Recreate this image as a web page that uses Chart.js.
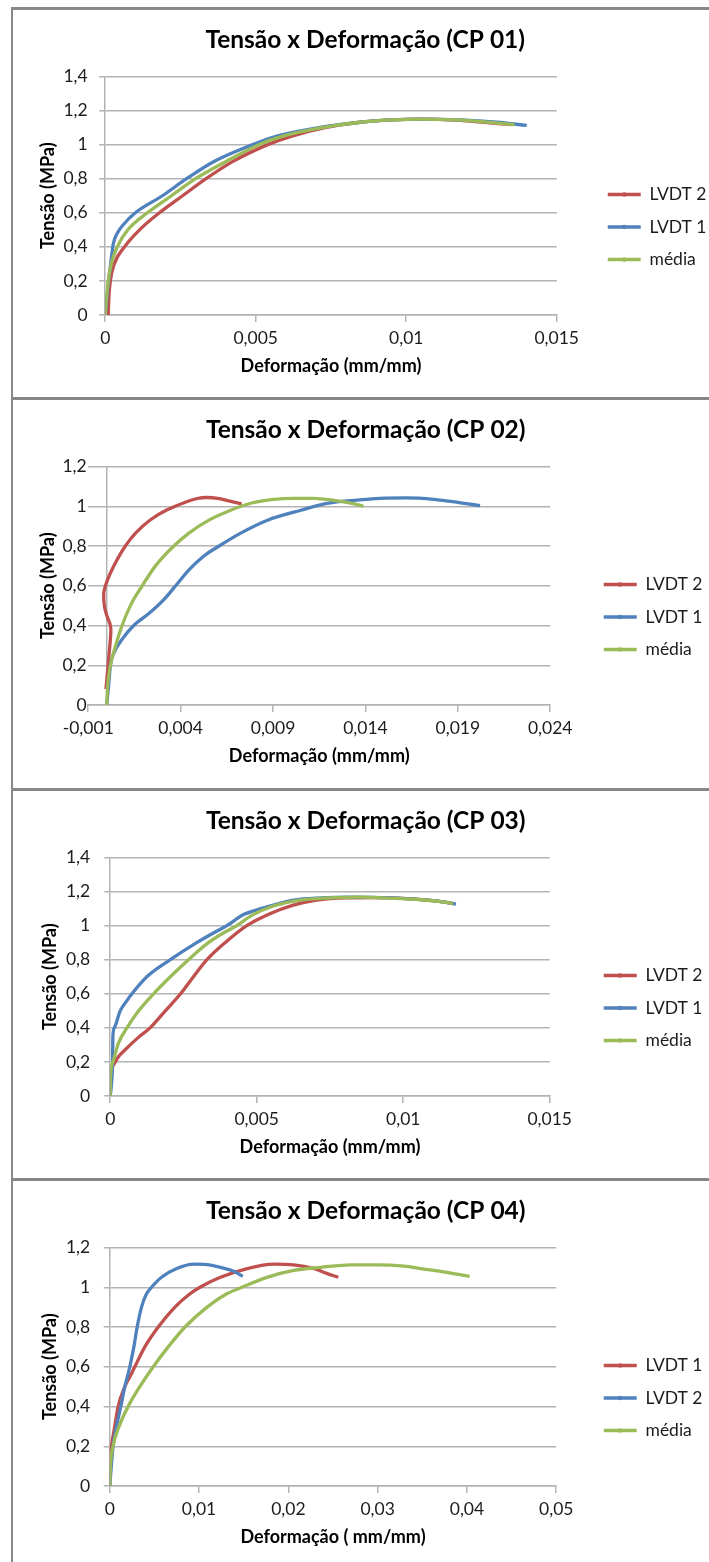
<!DOCTYPE html>
<html><head><meta charset="utf-8">
<script src="https://cdn.jsdelivr.net/npm/chart.js@4.4.1/dist/chart.umd.min.js"></script>
<style>
html,body{margin:0;padding:0;background:#fff;overflow:hidden;width:709px;height:1562px;position:relative;}
.box{position:absolute;left:11px;width:730px;border-top:3px solid #878787;border-left:2px solid #878787;box-sizing:border-box;}
canvas{position:absolute;left:13px;}
</style></head><body>
<div class="box" style="top:7px;height:393px"></div>
<div class="box" style="top:397px;height:394px"></div>
<div class="box" style="top:788px;height:393px"></div>
<div class="box" style="top:1178px;height:400px"></div>
<canvas id="c1" width="720" height="387" style="top:10px"></canvas>
<canvas id="c2" width="720" height="387" style="top:400px"></canvas>
<canvas id="c3" width="720" height="387" style="top:791px"></canvas>
<canvas id="c4" width="720" height="387" style="top:1181px"></canvas>
<script>
// ---- titles and labels ----
const chartTitles = ['Tensão x Deformação (CP 01)', 'Tensão x Deformação (CP 02)', 'Tensão x Deformação (CP 03)', 'Tensão x Deformação (CP 04)'];
const xTitles = ['Deformação (mm/mm)', 'Deformação (mm/mm)', 'Deformação (mm/mm)', 'Deformação ( mm/mm)'];
const yTitle = 'Tensão (MPa)';
const cp1Names = ['LVDT 2', 'LVDT 1', 'média'];
const cp2Names = ['LVDT 2', 'LVDT 1', 'média'];
const cp3Names = ['LVDT 2', 'LVDT 1', 'média'];
const cp4Names = ['LVDT 1', 'LVDT 2', 'média'];
// axis ranges [min, max, step]
const cp1X = [0, 0.015, 0.005];   const cp1Y = [0, 1.4, 0.2];
const cp2X = [-0.001, 0.024, 0.005]; const cp2Y = [0, 1.2, 0.2];
const cp3X = [0, 0.015, 0.005];   const cp3Y = [0, 1.4, 0.2];
const cp4X = [0, 0.05, 0.01];     const cp4Y = [0, 1.2, 0.2];

// ---- data [strain, stress] ----
const cp1_red = [[0.0001,0],[0.00012,0.1],[0.00017,0.2],[0.0003,0.3],[0.00064,0.4],[0.00114,0.5],[0.0018,0.6],[0.00257,0.7],[0.00335,0.8],[0.00423,0.9],[0.0054,1.0],[0.0062,1.05],[0.0073,1.1],[0.0084,1.13],[0.0095,1.145],[0.0105,1.15],[0.0115,1.145],[0.0125,1.132],[0.0135,1.118]];
const cp1_blue = [[0,0],[0.00008,0.15],[0.00018,0.3],[0.00027,0.42],[0.0004,0.48],[0.0006,0.53],[0.001,0.6],[0.0019,0.7],[0.0027,0.8],[0.0036,0.9],[0.0049,1.0],[0.0057,1.05],[0.0071,1.1],[0.0084,1.13],[0.0095,1.145],[0.0105,1.15],[0.0118,1.145],[0.013,1.132],[0.014,1.113]];
const cp1_green = [[0,0],[0.00004,0.1],[0.0001,0.2],[0.0002,0.3],[0.0004,0.4],[0.00075,0.5],[0.0014,0.6],[0.0022,0.7],[0.003,0.8],[0.004,0.9],[0.0051,1.0],[0.0059,1.05],[0.0072,1.1],[0.0084,1.13],[0.0095,1.145],[0.0105,1.15],[0.0117,1.145],[0.0127,1.132],[0.0136,1.117]];

const cp2_red = [[-0.00004,0.08],[0.0001,0.23],[0.00022,0.36],[0.0002,0.4],[0.00002,0.446],[-0.00013,0.5],[-0.00016,0.563],[-0.00007,0.6],[0.0002,0.664],[0.00056,0.731],[0.00101,0.8],[0.00156,0.865],[0.00237,0.932],[0.00327,0.982],[0.00436,1.024],[0.0049,1.039],[0.0054,1.044],[0.006,1.04],[0.0066,1.027],[0.0073,1.012]];
const cp2_blue = [[0,0],[0.0001,0.094],[0.0002,0.2],[0.00038,0.26],[0.00083,0.33],[0.00146,0.4],[0.00228,0.46],[0.00309,0.53],[0.00373,0.6],[0.00445,0.68],[0.00526,0.75],[0.00608,0.8],[0.00725,0.865],[0.0087,0.93],[0.0105,0.98],[0.012,1.016],[0.0134,1.03],[0.0148,1.04],[0.0162,1.042],[0.0177,1.035],[0.019,1.02],[0.0202,1.003]];
const cp2_green = [[0,0],[0.00005,0.094],[0.0002,0.2],[0.00047,0.295],[0.00083,0.4],[0.00128,0.5],[0.00192,0.6],[0.00264,0.7],[0.00363,0.8],[0.00445,0.865],[0.00553,0.93],[0.00671,0.98],[0.00779,1.015],[0.00906,1.035],[0.0101,1.04],[0.0112,1.04],[0.0123,1.03],[0.0132,1.016],[0.0139,1.0]];

const cp3_red = [[0,0],[0.00002,0.11],[0.00014,0.19],[0.00028,0.23],[0.0005,0.27],[0.001,0.35],[0.00136,0.4],[0.00188,0.5],[0.0024,0.6],[0.00284,0.7],[0.0033,0.8],[0.00392,0.9],[0.00466,1.0],[0.00545,1.07],[0.00625,1.12],[0.00705,1.15],[0.0081,1.163],[0.0092,1.165],[0.0103,1.157],[0.0111,1.145],[0.0117,1.13]];
const cp3_blue = [[0,0],[0.00006,0.11],[0.00008,0.2],[0.00009,0.35],[0.00014,0.4],[0.00034,0.5],[0.00057,0.56],[0.00074,0.6],[0.00125,0.7],[0.00205,0.8],[0.00295,0.9],[0.00352,0.957],[0.00398,1.0],[0.00455,1.065],[0.00523,1.104],[0.00625,1.15],[0.0072,1.163],[0.0082,1.167],[0.0092,1.165],[0.0103,1.157],[0.0111,1.145],[0.0118,1.127]];
const cp3_green = [[0,0],[0.00001,0.11],[0.00009,0.2],[0.00028,0.31],[0.00057,0.4],[0.00097,0.5],[0.00148,0.6],[0.00205,0.7],[0.00267,0.8],[0.00335,0.9],[0.00386,0.957],[0.00432,1.0],[0.00483,1.06],[0.00557,1.115],[0.00648,1.15],[0.0075,1.163],[0.0085,1.167],[0.0097,1.16],[0.0106,1.152],[0.0112,1.143],[0.0117,1.13]];

const cp4_red = [[0,0],[0.00002,0.094],[0.00019,0.2],[0.00056,0.3],[0.00094,0.4],[0.00169,0.5],[0.00243,0.565],[0.00281,0.6],[0.00393,0.7],[0.00543,0.8],[0.0073,0.9],[0.00899,0.967],[0.0101,1.0],[0.0124,1.05],[0.0154,1.094],[0.0184,1.116],[0.0206,1.113],[0.0229,1.094],[0.0243,1.07],[0.0256,1.05]];
const cp4_blue = [[0,0],[0.00037,0.2],[0.00075,0.3],[0.00124,0.4],[0.00169,0.5],[0.00225,0.6],[0.0027,0.7],[0.00307,0.8],[0.00356,0.9],[0.00412,0.967],[0.00468,1.0],[0.0058,1.05],[0.0075,1.094],[0.0094,1.116],[0.0109,1.114],[0.0124,1.1],[0.0139,1.08],[0.0149,1.055]];
const cp4_green = [[0,0],[0.00007,0.094],[0.00037,0.2],[0.00105,0.3],[0.00206,0.4],[0.00337,0.5],[0.00487,0.6],[0.00655,0.7],[0.00843,0.8],[0.0109,0.9],[0.0131,0.967],[0.0148,1.0],[0.0176,1.05],[0.0206,1.085],[0.0236,1.1],[0.027,1.113],[0.03,1.113],[0.033,1.106],[0.0348,1.094],[0.037,1.08],[0.0403,1.055]];

// ---- styling ----
Chart.defaults.font.family = 'Lato, "Open Sans", sans-serif';
const COLORS = ['#C0504D', '#4F81BD', '#9BBB59'];
const GRID = '#b3b3b3';
const NONE = 'rgba(0,0,0,0)';
const TXT = '#1c1c1c';
function fmt(v) { return String(Math.round(v * 1e6) / 1e6).replace('.', ','); }
const isZero = v => Math.abs(v) < 1e-12;

// page-coordinate layout targets
const specs = [
  {id:'c1', t:chartTitles[0], xt:xTitles[0], names:cp1Names, series:[cp1_red, cp1_blue, cp1_green], xr:cp1X, yr:cp1Y, left:105.5, right:557, legX:608, labR:88, yTitleX:48, zero:false},
  {id:'c2', t:chartTitles[1], xt:xTitles[1], names:cp2Names, series:[cp2_red, cp2_blue, cp2_green], xr:cp2X, yr:cp2Y, left:88, right:550, legX:603.5, labR:86.5, yTitleX:48, zero:true},
  {id:'c3', t:chartTitles[2], xt:xTitles[2], names:cp3Names, series:[cp3_red, cp3_blue, cp3_green], xr:cp3X, yr:cp3Y, left:110, right:549.5, legX:603.5, labR:90, yTitleX:50, zero:false},
  {id:'c4', t:chartTitles[3], xt:xTitles[3], names:cp4Names, series:[cp4_red, cp4_blue, cp4_green], xr:cp4X, yr:cp4Y, left:109.5, right:556, legX:603.5, labR:90, yTitleX:50, zero:false}
];
const TITLE_CX = 365.5;
const W = 720, H = 387, PLOT_BOTTOM = 305, PLOT_TOP = 66.5, TITLE_CY = 30;
const P = 15, BOXW = 33, LFS = 17.5, TICKFS = 17.5, AXFS = 18, TITLEFS = 24.5, TL = 6;

// small marker dot in the middle of each legend line (as in the original)
const legendDots = {
  id: 'legendDots',
  afterDraw(chart) {
    const lg = chart.legend;
    if (!lg || !lg.legendHitBoxes) return;
    const ctx = chart.ctx;
    lg.legendItems.forEach((it, i) => {
      const hb = lg.legendHitBoxes[i];
      if (!hb) return;
      ctx.save();
      ctx.fillStyle = it.strokeStyle;
      ctx.beginPath();
      ctx.arc(hb.left + BOXW / 2, hb.top + LFS / 2, 2.2, 0, Math.PI * 2);
      ctx.fill();
      ctx.restore();
    });
  }
};

function buildConfig(s, L, lw) {
  const loc = v => v - L;
  const legLeft = loc(s.legX) - P;
  const gapW = legLeft - loc(s.right);
  const padR = Math.max(0, W - legLeft - lw);
  const plotLeft = loc(s.left);
  const datasets = s.series.map((d, i) => ({
    label: s.names[i],
    data: d.map(p => ({x: p[0], y: p[1]})),
    borderColor: COLORS[i], backgroundColor: COLORS[i],
    borderWidth: 3.3, pointRadius: 0, pointHoverRadius: 0,
    cubicInterpolationMode: (s.id === 'c2' && i === 0) ? 'default' : 'monotone',
    tension: 0.4, order: 2 - i, xAxisID: 'x', yAxisID: 'y'
  }));
  const scales = {
    x: {
      type: 'linear', position: 'bottom', min: s.xr[0], max: s.xr[1],
      afterBuildTicks: sc => {
        if (s.zero && s.xr[0] < 0) { sc.ticks.push({value: 0}); sc.ticks.sort((a, b) => a.value - b.value); }
      },
      ticks: {stepSize: s.xr[2], callback: v => (s.zero && isZero(v)) ? '' : fmt(v), font: {size: TICKFS}, color: TXT, padding: 5.5, maxRotation: 0, autoSkip: false},
      grid: {
        display: true, drawOnChartArea: s.zero, drawTicks: true, tickLength: 7, lineWidth: 1.5,
        color: c => (s.zero && c.tick && isZero(c.tick.value)) ? GRID : (s.zero ? NONE : GRID),
        tickColor: c => (s.zero && c.tick && isZero(c.tick.value)) ? NONE : GRID
      },
      border: {display: true, color: GRID, width: 1.5},
      title: {display: true, text: s.xt, font: {size: AXFS, weight: 'bold'}, color: '#000', padding: {top: 0, bottom: 20.2}},
      afterFit: sc => { sc.height = H - PLOT_BOTTOM; }
    },
    y: {
      type: 'linear', position: 'left', min: s.yr[0], max: s.yr[1],
      ticks: {stepSize: s.yr[2], callback: fmt, font: {size: TICKFS}, color: TXT, padding: s.left - s.labR - (s.zero ? 0 : TL)},
      grid: {display: true, drawOnChartArea: true, drawTicks: !s.zero, tickLength: TL, color: GRID, lineWidth: 1.5},
      border: {display: !s.zero, color: GRID, width: 1.5},
      title: {display: true, text: yTitle, font: {size: AXFS, weight: 'bold'}, color: '#000', padding: {top: loc(s.yTitleX) - AXFS * 0.6, bottom: 0}},
      afterFit: sc => { sc.width = plotLeft; }
    },
    gap: {
      axis: 'y', type: 'linear', position: 'right', display: true,
      ticks: {display: false}, grid: {display: false, drawTicks: false}, border: {display: false},
      afterFit: sc => { sc.width = gapW; }
    }
  };
  const tpTop = TITLE_CY - TITLEFS * 0.6;
  return {
    type: 'line',
    data: {datasets},
    plugins: [legendDots],
    options: {
      responsive: false, animation: false, devicePixelRatio: 1,
      layout: {padding: {left: 0, top: 0, right: padR, bottom: 0}},
      scales,
      plugins: {
        title: {display: true, text: s.t, font: {size: TITLEFS, weight: 'bold'}, color: '#000', padding: {top: tpTop, bottom: PLOT_TOP - tpTop - TITLEFS * 1.2}},
        legend: {
          display: true, position: 'right', align: 'center', reverse: true, maxWidth: 400,
          title: {display: true, text: '', font: {size: 10}, padding: {top: 35, bottom: 0}},
          labels: {usePointStyle: true, pointStyle: 'line', pointStyleWidth: BOXW, boxWidth: BOXW, padding: P, font: {size: LFS}, color: TXT}
        },
        tooltip: {enabled: false}
      }
    }
  };
}

specs.forEach(s => {
  const canvas = document.getElementById(s.id);
  // first pass: measure the legend's natural width
  let chart = new Chart(canvas, buildConfig(s, 13, 120));
  const lw = chart.legend.width;
  chart.destroy();
  // canvas left so that the (full-width) title is centred like the original
  const L = 2 * TITLE_CX - (s.legX - P) - lw;
  canvas.style.left = L + 'px';
  new Chart(canvas, buildConfig(s, L, lw));
});
</script>
</body></html>
